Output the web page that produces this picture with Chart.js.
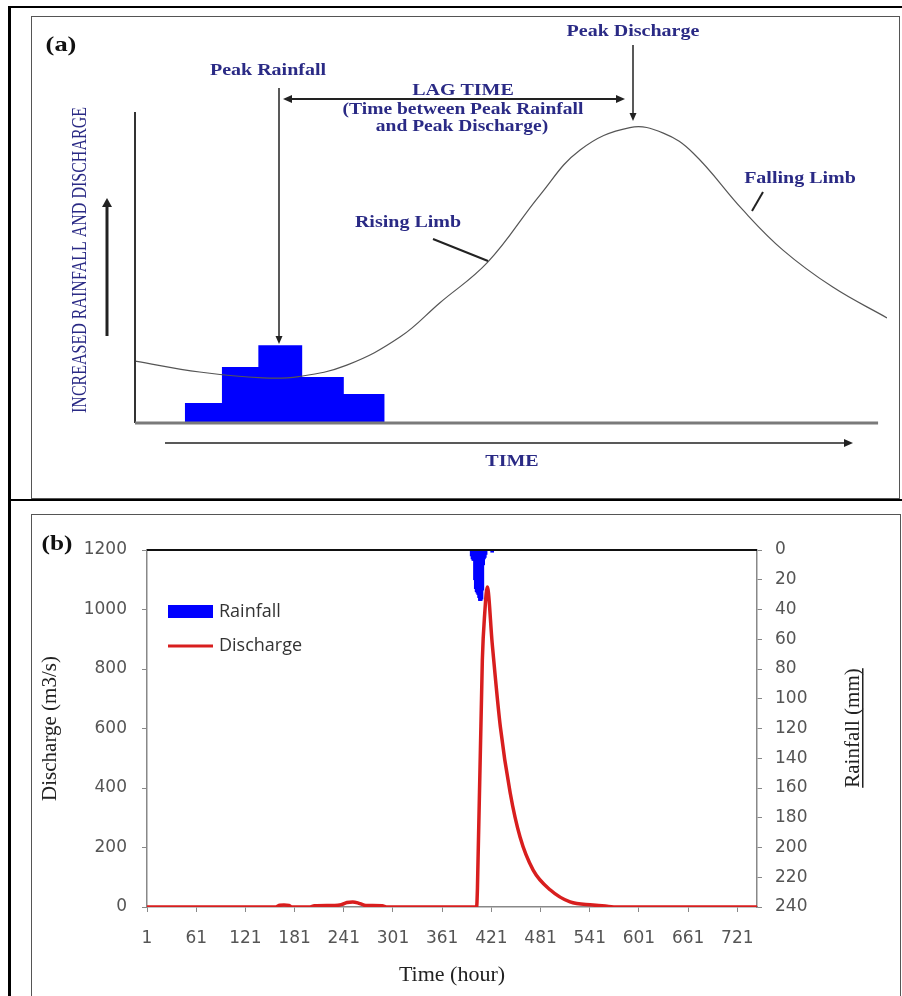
<!DOCTYPE html>
<html>
<head>
<meta charset="utf-8">
<script src="https://cdn.jsdelivr.net/npm/chart.js@4.4.1/dist/chart.umd.min.js"></script>
<style>
  html, body { margin: 0; padding: 0; background: #fff; }
  body { width: 902px; height: 996px; position: relative; overflow: hidden; }
  .frame { position: absolute; left: 8px; top: 6px; width: 920px; height: 1020px; border-left: 3px solid #000; border-top: 2px solid #000; box-sizing: border-box; }
  .divider { position: absolute; left: 8px; top: 499px; width: 900px; height: 2px; background: #000; }
  .box { position: absolute; border: 1.5px solid #555; box-sizing: border-box; }
  #boxA { left: 31px; top: 16px; width: 869px; height: 483px; }
  #boxB { left: 31px; top: 514px; width: 870px; height: 520px; }
  canvas { position: absolute; left: 0; }
  #chartA { top: 0; }
  #chartB { top: 500px; }
</style>
</head>
<body>
<div class="frame"></div>
<div class="divider"></div>
<div class="box" id="boxA"></div>
<div class="box" id="boxB"></div>
<canvas id="chartA" width="902" height="500"></canvas>
<canvas id="chartB" width="902" height="496"></canvas>
<script>
// (a) schematic hydrograph, arbitrary units
const hydroTime = [0, 8.7, 17.2, 22.0, 28.5, 35.7, 41.0, 47.5, 54.5, 59.9, 66.6, 71.1, 75.1, 81.8, 87.2, 93.9, 101.2]
const hydroFlow = [19.9, 16.4, 14.5, 14.9, 18.6, 27.7, 38.6, 51.8, 73.3, 87.8, 95.0, 93.2, 86.8, 68.5, 55.6, 43.7, 33.8]
const blockEdges = [6.7, 11.7, 16.6, 22.5, 28.1, 33.6]
const blockRain = [6.4, 18, 25, 14.8, 9.3]

// (b) observed event
const hourTicks = [1, 61, 121, 181, 241, 301, 361, 421, 481, 541, 601, 661, 721]
const flowHours = [1, 158, 163, 168, 174, 178, 200, 205, 230, 238, 245, 252, 258, 266, 270, 288, 293,
  403, 404, 410, 413, 416, 422, 432, 444, 456, 472, 493, 517, 545, 560, 575, 745]
const flowValues = [0, 0, 6, 7, 5, 0, 0, 4, 5, 8, 15, 17, 14, 6, 5, 4, 0,
  0, 60, 830, 990, 1076, 887, 605, 383, 235, 124, 57, 17, 7, 3, 0, 0]
const rainHours = [397, 398, 399, 400, 401, 402, 403, 404, 405, 406, 407, 408, 409, 410, 411, 412, 413, 414, 422]
const rainValues = [4, 6, 7, 7, 20, 26, 28, 29, 30, 32, 34, 34, 33, 27, 10, 6, 5, 3, 1.5]

const navy = '#2a2a85'
const serif = 'Liberation Serif'

function stretchText(ctx, text, x, y, font, color, sx) {
  ctx.save()
  ctx.font = font
  ctx.fillStyle = color
  ctx.textAlign = 'center'
  ctx.textBaseline = 'middle'
  ctx.translate(x, y)
  ctx.scale(sx, 1)
  ctx.fillText(text, 0, 0)
  ctx.restore()
}

function arrow(ctx, x1, y1, x2, y2, width, head, spread, both) {
  const a = Math.atan2(y2 - y1, x2 - x1)
  const c = Math.cos(a)
  const s = Math.sin(a)
  ctx.save()
  ctx.strokeStyle = '#222'
  ctx.fillStyle = '#222'
  ctx.lineWidth = width
  ctx.beginPath()
  ctx.moveTo(both ? x1 + head * c * 0.8 : x1, both ? y1 + head * s * 0.8 : y1)
  ctx.lineTo(x2 - head * c * 0.8, y2 - head * s * 0.8)
  ctx.stroke()
  const tip = (x, y, cc, ss) => {
    ctx.beginPath()
    ctx.moveTo(x, y)
    ctx.lineTo(x - head * cc + spread * ss, y - head * ss - spread * cc)
    ctx.lineTo(x - head * cc - spread * ss, y - head * ss + spread * cc)
    ctx.closePath()
    ctx.fill()
  }
  tip(x2, y2, c, s)
  if (both) tip(x1, y1, -c, -s)
  ctx.restore()
}

function line(ctx, x1, y1, x2, y2, width, color) {
  ctx.save()
  ctx.strokeStyle = color
  ctx.lineWidth = width
  ctx.beginPath()
  ctx.moveTo(x1, y1)
  ctx.lineTo(x2, y2)
  ctx.stroke()
  ctx.restore()
}

const blockPts = [{ x: blockEdges[0], y: 0 }]
blockRain.forEach((r, i) => blockPts.push({ x: blockEdges[i], y: r }))
blockPts.push({ x: blockEdges[blockEdges.length - 1], y: blockRain[blockRain.length - 1] })
blockPts.push({ x: blockEdges[blockEdges.length - 1], y: 0 })

const panelADecor = {
  id: 'panelADecor',
  afterDraw(chart) {
    const { ctx } = chart
    const xs = chart.scales.x
    const ys = chart.scales.y
    const x0 = xs.getPixelForValue(0)
    const y0 = ys.getPixelForValue(0)
    // axes
    line(ctx, x0, ys.getPixelForValue(100), x0, y0, 2, '#333')
    line(ctx, x0, y0, xs.getPixelForValue(100), y0, 3, '#7a7a7a')
    // arrows
    arrow(ctx, 165, 443, 853, 443, 1.5, 9, 4, false)
    arrow(ctx, 107, 336, 107, 198, 3, 9, 5, false)
    arrow(ctx, 279, 88, 279, 344, 1.5, 8, 3.5, false)
    arrow(ctx, 283, 99, 625, 99, 1.8, 9, 4, true)
    arrow(ctx, 633, 45, 633, 121, 1.5, 8, 3.5, false)
    line(ctx, 433, 239, 488, 261, 2, '#222')
    line(ctx, 763, 192, 752, 211, 2, '#222')
    // labels
    const b16 = 'bold 16px "' + serif + '"'
    stretchText(ctx, '(a)', 61, 45, 'bold 22px "' + serif + '"', '#111', 1.2)
    stretchText(ctx, 'Peak Rainfall', 268, 71, b16, navy, 1.25)
    stretchText(ctx, 'Peak Discharge', 633, 32, b16, navy, 1.25)
    stretchText(ctx, 'LAG TIME', 463, 91, b16, navy, 1.25)
    stretchText(ctx, '(Time between Peak Rainfall', 463, 110, b16, navy, 1.22)
    stretchText(ctx, 'and Peak Discharge)', 462, 127, b16, navy, 1.22)
    stretchText(ctx, 'Rising Limb', 408, 223, b16, navy, 1.25)
    stretchText(ctx, 'Falling Limb', 800, 179, b16, navy, 1.25)
    stretchText(ctx, 'TIME', 512, 462, b16, navy, 1.25)
    ctx.save()
    ctx.translate(81, 260)
    ctx.rotate(-Math.PI / 2)
    ctx.scale(1, 1.3)
    ctx.font = '16px "' + serif + '"'
    ctx.fillStyle = navy
    ctx.textAlign = 'center'
    ctx.textBaseline = 'middle'
    ctx.fillText('INCREASED RAINFALL AND DISCHARGE', 0, 0)
    ctx.restore()
  }
}

new Chart(document.getElementById('chartA'), {
  type: 'line',
  data: {
    datasets: [
      {
        label: 'Discharge',
        data: hydroTime.map((t, i) => ({ x: t, y: hydroFlow[i] })),
        borderColor: '#555',
        borderWidth: 1.2,
        pointRadius: 0,
        tension: 0.4,
        order: 0,
      },
      {
        label: 'Rainfall',
        data: blockPts,
        stepped: true,
        borderWidth: 0,
        borderColor: '#0000ff',
        backgroundColor: '#0000ff',
        fill: 'origin',
        pointRadius: 0,
        order: 1,
      },
    ],
  },
  options: {
    responsive: false,
    animation: false,
    devicePixelRatio: 1,
    layout: { padding: { left: 135, right: 15, top: 112, bottom: 77 } },
    plugins: { legend: { display: false }, tooltip: { enabled: false } },
    scales: {
      x: { type: 'linear', min: 0, max: 101.2, display: false },
      y: { type: 'linear', min: 0, max: 100, display: false },
    },
  },
  plugins: [panelADecor],
})

const tickFont = { family: 'DejaVu Sans', size: 17 }
const tickGrid = { offset: false, drawOnChartArea: false, drawTicks: true, tickLength: 5, color: '#888' }

const panelBDecor = {
  id: 'panelBDecor',
  afterDraw(chart) {
    const { ctx, chartArea } = chart
    line(ctx, chartArea.left, chartArea.top, chartArea.right, chartArea.top, 2, '#111')
    // legend
    const rain = chart.data.datasets[0]
    const flow = chart.data.datasets[1]
    ctx.save()
    ctx.fillStyle = rain.backgroundColor
    ctx.fillRect(168, 105, 45, 13)
    ctx.restore()
    line(ctx, 168, 146, 213, 146, 3, flow.borderColor)
    ctx.save()
    ctx.font = '18px "Open Sans"'
    ctx.fillStyle = '#333'
    ctx.textBaseline = 'middle'
    ctx.fillText(rain.label, 219, 112)
    ctx.fillText(flow.label, 219, 146)
    ctx.restore()
    // right axis title, reads bottom to top and underlined
    ctx.save()
    ctx.translate(853, 228)
    ctx.rotate(-Math.PI / 2)
    ctx.font = '21px "' + serif + '"'
    ctx.fillStyle = '#222'
    ctx.textAlign = 'center'
    ctx.textBaseline = 'middle'
    const t = 'Rainfall (mm)'
    const w = ctx.measureText(t).width
    ctx.fillText(t, 0, 0)
    ctx.fillRect(-w / 2, 9, w, 1.5)
    ctx.restore()
    stretchText(ctx, '(b)', 57, 44, 'bold 22px "' + serif + '"', '#111', 1.15)
  }
}

new Chart(document.getElementById('chartB'), {
  type: 'line',
  data: {
    datasets: [
      {
        type: 'bar',
        label: 'Rainfall',
        data: rainHours.map((h, i) => ({ x: h, y: rainValues[i] })),
        yAxisID: 'yRain',
        backgroundColor: '#0000ff',
        borderWidth: 0,
        barThickness: 3,
        order: 0,
      },
      {
        label: 'Discharge',
        data: flowHours.map((h, i) => ({ x: h, y: flowValues[i] })),
        yAxisID: 'yFlow',
        borderColor: '#d81e1e',
        borderWidth: 3.5,
        pointRadius: 0,
        cubicInterpolationMode: 'monotone',
        order: 1,
      },
    ],
  },
  options: {
    responsive: false,
    animation: false,
    devicePixelRatio: 1,
    layout: { padding: { left: 33.4, right: 45, top: 50, bottom: 3.4 } },
    plugins: { legend: { display: false }, tooltip: { enabled: false } },
    scales: {
      x: {
        type: 'linear',
        min: 1,
        max: 745,
        offset: false,
        afterBuildTicks: (s) => { s.ticks = hourTicks.map((v) => ({ value: v })) },
        afterFit: (s) => { s.height = 85.6 },
        ticks: { autoSkip: false, maxRotation: 0, padding: 16, color: '#555', font: tickFont, callback: (v) => String(v) },
        grid: tickGrid,
        border: { display: true, color: '#888', width: 1.5 },
        title: { display: true, text: 'Time (hour)', color: '#222', font: { family: serif, size: 22 } },
      },
      yFlow: {
        type: 'linear',
        position: 'left',
        min: 0,
        max: 1200,
        afterFit: (s) => { s.width = 113.6 },
        ticks: { stepSize: 200, padding: 15, color: '#555', font: tickFont, callback: (v) => String(v) },
        grid: tickGrid,
        border: { display: true, color: '#888', width: 1.5 },
        title: { display: true, text: 'Discharge (m3/s)', color: '#222', font: { family: serif, size: 21 } },
      },
      yRain: {
        type: 'linear',
        position: 'right',
        reverse: true,
        min: 0,
        max: 240,
        afterFit: (s) => { s.width = 100 },
        ticks: { stepSize: 20, padding: 13, color: '#555', font: tickFont, callback: (v) => String(v) },
        grid: tickGrid,
        border: { display: true, color: '#888', width: 1.5 },
      },
    },
  },
  plugins: [panelBDecor],
})
</script>
</body>
</html>
